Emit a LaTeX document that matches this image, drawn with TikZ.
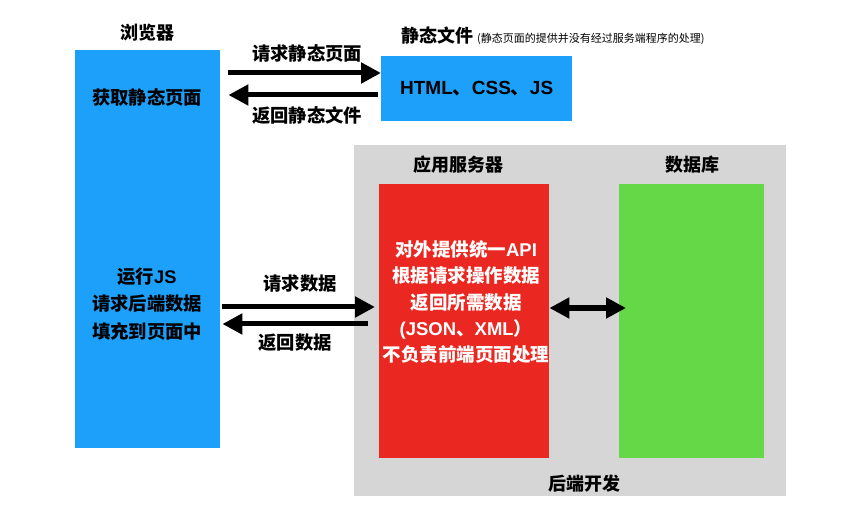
\documentclass[tikz,border=0pt]{standalone}
\usepackage{fontspec}
\setmainfont{Noto Sans CJK SC}
\newfontfamily\lat{Liberation Sans}
\usetikzlibrary{arrows.meta,calc}
\definecolor{cblue}{RGB}{29,160,250}
\definecolor{cred}{RGB}{234,40,33}
\definecolor{cgreen}{RGB}{101,216,71}
\definecolor{cgray}{RGB}{214,214,214}
\tikzset{
  box/.style={draw=none, anchor=north west, inner sep=0pt},
  lbl/.style={font=\fontsize{18}{20}\selectfont\bfseries, inner sep=0pt},
  body/.style={font=\fontsize{18.3}{27.5}\selectfont\bfseries, align=center, inner sep=0pt},
  arr/.style={line width=5pt, -{Triangle[length=20pt,width=20pt]}},
  darr/.style={line width=6pt, {Triangle[length=20pt,width=20pt]}-{Triangle[length=20pt,width=20pt]}}
}
\begin{document}
\begin{tikzpicture}[x=1pt,y=-1pt]
\useasboundingbox[fill=white] (0,0) rectangle (854,510);
% boxes
\node[box, fill=cblue, minimum width=145pt, minimum height=398pt] (browser) at (75,50) {};
\node[box, fill=cblue, minimum width=191pt, minimum height=65pt] (static) at (381,56) {};
\node[box, fill=cgray, minimum width=432pt, minimum height=351pt] (backend) at (354,145) {};
\node[box, fill=cred, minimum width=170pt, minimum height=274pt] (app) at (379,184) {};
\node[box, fill=cgreen, minimum width=145pt, minimum height=274pt] (db) at (619,184) {};
% titles
\node[lbl] (tbrowser) at (147,33) {浏览器};
\node[lbl, anchor=base west] (tstatic) at (401,43) {静态文件\hspace{4pt}{\fontsize{11}{12}\selectfont\mdseries(静态页面的提供并没有经过服务端程序的处理)}};
\node[lbl] (tapp) at (458,165) {应用服务器};
\node[lbl] (tdb) at (692,165) {数据库};
\node[lbl] (tback) at (584,484) {后端开发};
% box texts
\node[body] (bget) at (147,97) {获取静态页面};
\node[body] (brun) at (147,304) {运行{\lat JS}\\请求后端数据\\填充到页面中};
\node[body, font=\fontsize{19}{20}\selectfont\bfseries] (shtml) at (static.center) {{\lat HTML}、{\lat CSS}、{\lat JS}};
\node[body, text=white, font=\fontsize{18.5}{26.2}\selectfont\bfseries] (atext) at (466,302) {对外提供统一{\lat API}\\根据请求操作数据\\返回所需数据\\{\lat (JSON}、{\lat XML}）\\不负责前端页面处理};
% arrow labels
\node[body] (l1) at (307,53) {请求静态页面};
\node[body] (l2) at (307,115) {返回静态文件};
\node[body] (l3) at (300,284) {请求数据};
\node[body] (l4) at (295,343) {返回数据};
% arrows
\draw[arr] ($(browser.east|-0,73)+(8,0)$) -- (static.west|-0,73);
\draw[arr] ($(static.west|-0,95)+(-3,0)$) -- ($(browser.east|-0,95)+(8,0)$);
\draw[arr] ($(browser.east|-0,307)+(2,0)$) -- ($(app.west|-0,307)+(-4,0)$);
\draw[arr] ($(app.west|-0,324)+(-11,0)$) -- ($(browser.east|-0,324)+(2,0)$);
\draw[darr] (app.east|-0,308) -- ($(db.west|-0,308)+(7,0)$);
\end{tikzpicture}
\end{document}
